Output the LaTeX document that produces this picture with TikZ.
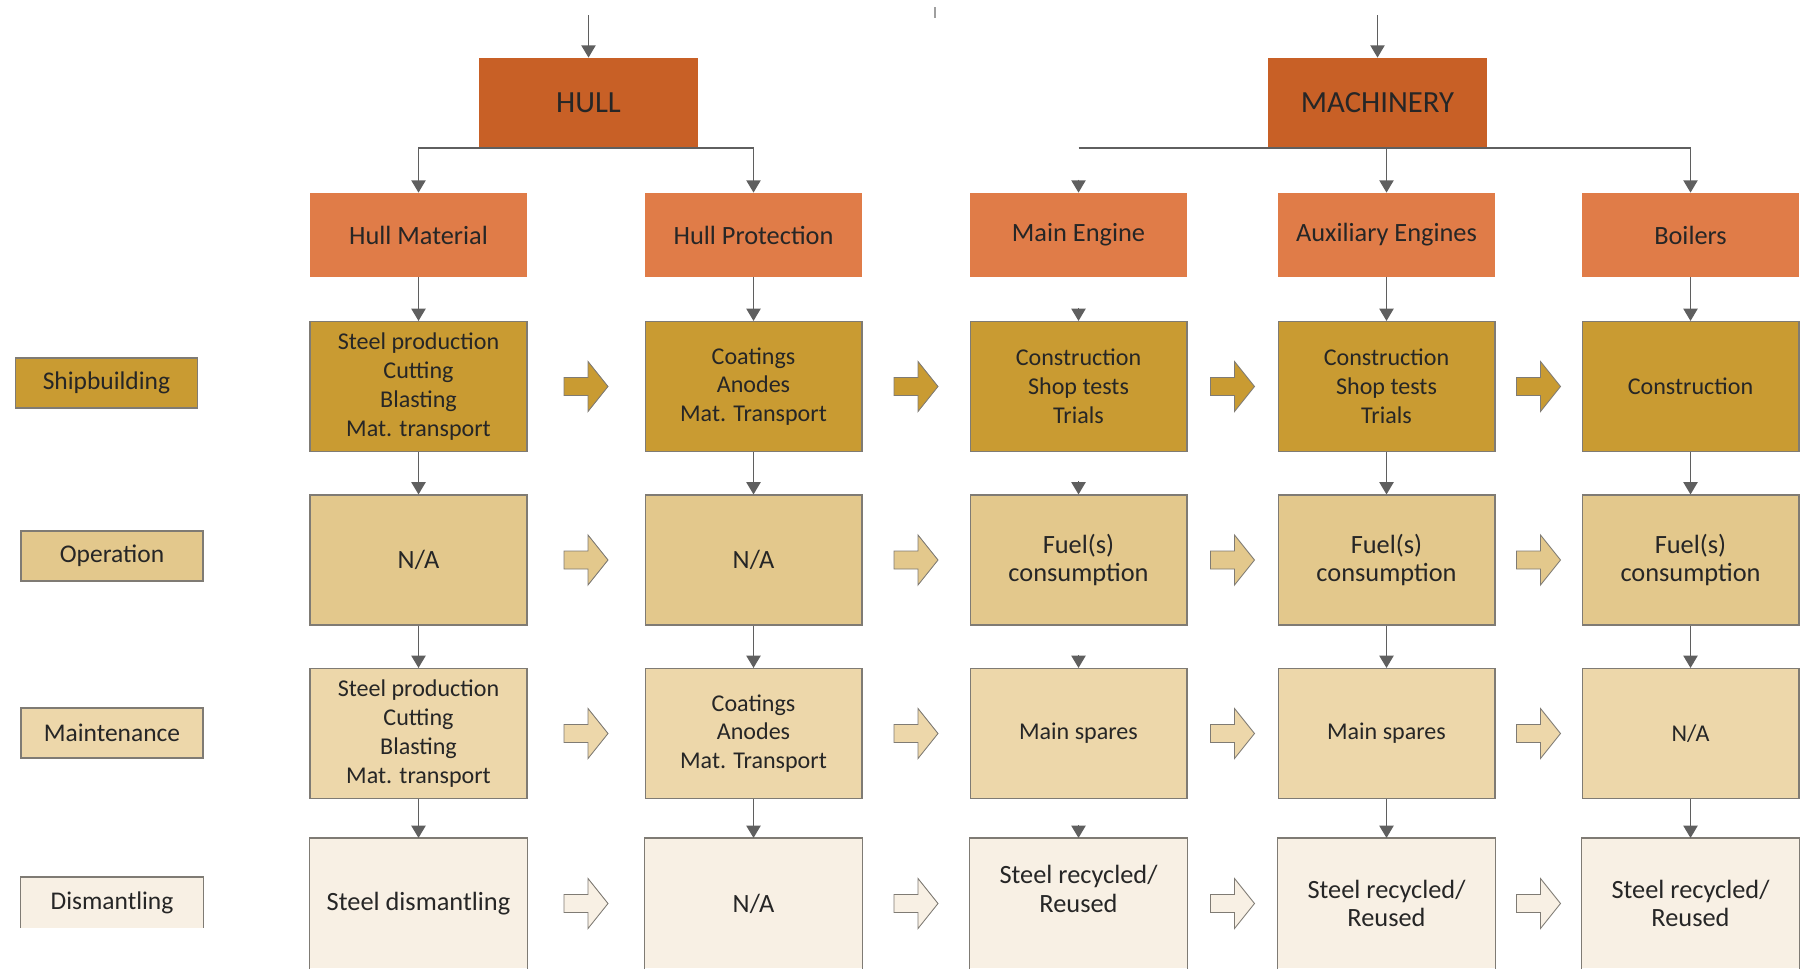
\documentclass[tikz,border=0pt]{standalone}
\usepackage{fontspec}
\setmainfont{Carlito}
\usetikzlibrary{arrows.meta,calc}

\definecolor{grpor}{HTML}{C86026}
\definecolor{partor}{HTML}{E07C48}
\definecolor{shipc}{HTML}{C99B32}
\definecolor{operc}{HTML}{E3C88C}
\definecolor{maintc}{HTML}{EDD7AA}
\definecolor{dismc}{HTML}{F8F0E4}
\definecolor{linec}{HTML}{5F5F5F}
\definecolor{edgec}{HTML}{7F7B74}

\tikzset{
  grpbox/.style={fill=grpor, minimum width=4.38cm, minimum height=1.8cm,
    text=black!85, font=\fontsize{17.5}{20}\selectfont},
  partbox/.style={fill=partor, minimum width=4.34cm, minimum height=1.68cm,
    text=black!85, font=\fontsize{15}{18}\selectfont},
  cellbox/.style={draw=edgec, line width=0.6pt, minimum width=4.34cm,
    minimum height=2.6cm, align=center, text=black!85,
    font=\fontsize{13.7}{16.4}\selectfont},
  shipbox/.style={cellbox, fill=shipc},
  operbox/.style={cellbox, fill=operc, font=\fontsize{15}{16.4}\selectfont},
  maintbox/.style={cellbox, fill=maintc},
  dismbox/.style={cellbox, draw=none, fill=dismc, font=\fontsize{15}{16.4}\selectfont},
  phasebox/.style={draw=edgec, line width=0.6pt, minimum width=3.64cm,
    minimum height=1.0cm, text=black!85, font=\fontsize{14.5}{17}\selectfont},
  conn/.style={draw=linec, line width=1.1pt},
  arr/.style={conn, -{Triangle[width=8pt,length=7pt]}},
  openedge/.style={draw=edgec, line width=0.6pt},
  blockarr/.pic={\path[pic actions] (-22,-9) -- (2,-9) -- (2,-25) -- (22,0)
    -- (2,25) -- (2,9) -- (-22,9) -- cycle;}
}

\begin{document}
\begin{tikzpicture}[x=0.02cm,y=-0.02cm]
\useasboundingbox (0,0) rectangle (1809,977);
\draw[linec!60, line width=0.8pt] (935,7) -- (935,18);

% groups
\node[grpbox] (hull) at (588.5,103) {HULL};
\node[grpbox] (mach) at (1377.5,103) {MACHINERY};
\coordinate (hin) at (588.5,15);
\coordinate (min) at (1377.5,15);

% parts
\node[partbox] (hm) at (418.5,235) {Hull Material};
\node[partbox] (hp) at (753.5,235) {Hull Protection};
\node[partbox] (me) at (1078.5,235) {Main Engine};
\node[partbox] (ax) at (1386.5,235) {Auxiliary Engines};
\node[partbox] (bo) at (1690.5,235) {Boilers};

% phases
\node[phasebox, fill=shipc] (lship) at (106.5,383) {Shipbuilding};
\node[phasebox, fill=operc] (lop) at (112,556) {Operation};
\node[phasebox, fill=maintc] (lmaint) at (112,733) {Maintenance};
\node[phasebox, draw=none, fill=dismc] (ldism) at (112,902.5) {Dismantling};

% shipbuilding
\node[shipbox] (hm1) at (418.5,386.5) {Steel production\\Cutting\\Blasting\\Mat. transport};
\node[shipbox] (hp1) at (753.5,386.5) {Coatings\\Anodes\\Mat. Transport};
\node[shipbox] (me1) at (1078.5,386.5) {Construction\\Shop tests\\Trials};
\node[shipbox] (ax1) at (1386.5,386.5) {Construction\\Shop tests\\Trials};
\node[shipbox] (bo1) at (1690.5,386.5) {Construction};

% operation
\node[operbox] (hm2) at (418.5,560) {N/A};
\node[operbox] (hp2) at (753.5,560) {N/A};
\node[operbox] (me2) at (1078.5,560) {Fuel(s)\\consumption};
\node[operbox] (ax2) at (1386.5,560) {Fuel(s)\\consumption};
\node[operbox] (bo2) at (1690.5,560) {Fuel(s)\\consumption};

% maintenance
\node[maintbox] (hm3) at (418.5,733.5) {Steel production\\Cutting\\Blasting\\Mat. transport};
\node[maintbox] (hp3) at (753.5,733.5) {Coatings\\Anodes\\Mat. Transport};
\node[maintbox] (me3) at (1078.5,733.5) {Main spares};
\node[maintbox] (ax3) at (1386.5,733.5) {Main spares};
\node[maintbox] (bo3) at (1690.5,733.5) {N/A};

% dismantling
\node[dismbox] (hm4) at (418.5,903.5) {Steel dismantling};
\node[dismbox] (hp4) at (753.5,903.5) {N/A};
\node[dismbox] (me4) at (1078.5,903.5) {Steel recycled/\\Reused\\\mbox{}};
\node[dismbox] (ax4) at (1386.5,903.5) {Steel recycled/\\Reused};
\node[dismbox] (bo4) at (1690.5,903.5) {Steel recycled/\\Reused};
\foreach \n in {hm4,hp4,me4,ax4,bo4,ldism}
  \draw[openedge] (\n.south west) |- (\n.north east) -- (\n.south east);

% tree
\draw[arr] (hin) -- (hull.north);
\draw[arr] (min) -- (mach.north);
\draw[arr] (hull.south) -| (hm.north);
\draw[arr] (hull.south) -| (hp.north);
\draw[conn] (mach.south -| me.north) -- (mach.south -| bo.north);
\draw[arr] (mach.south -| ax.north) -- (ax.north);
\draw[arr] (mach.south -| bo.north) -- (bo.north);

\foreach \c in {hm,hp,ax,bo}{
  \draw[arr] (\c.south) -- (\c1.north);
  \draw[arr] (\c1.south) -- (\c2.north);
  \draw[arr] (\c2.south) -- (\c3.north);
  \draw[arr] (\c3.south) -- (\c4.north);
}
\foreach \n in {me,me1,me2,me3,me4}
  \draw[arr] ($(\n.north)+(0,-13)$) -- (\n.north);

% flow between parts
\foreach \r/\f in {1/shipc,2/operc,3/maintc,4/dismc}
  \foreach \a/\b in {hm/hp,hp/me,me/ax,ax/bo}
    \pic[draw=edgec, fill=\f, line width=0.5pt] at ($(\a\r.east)!0.5!(\b\r.west)$) {blockarr};
\end{tikzpicture}
\end{document}
